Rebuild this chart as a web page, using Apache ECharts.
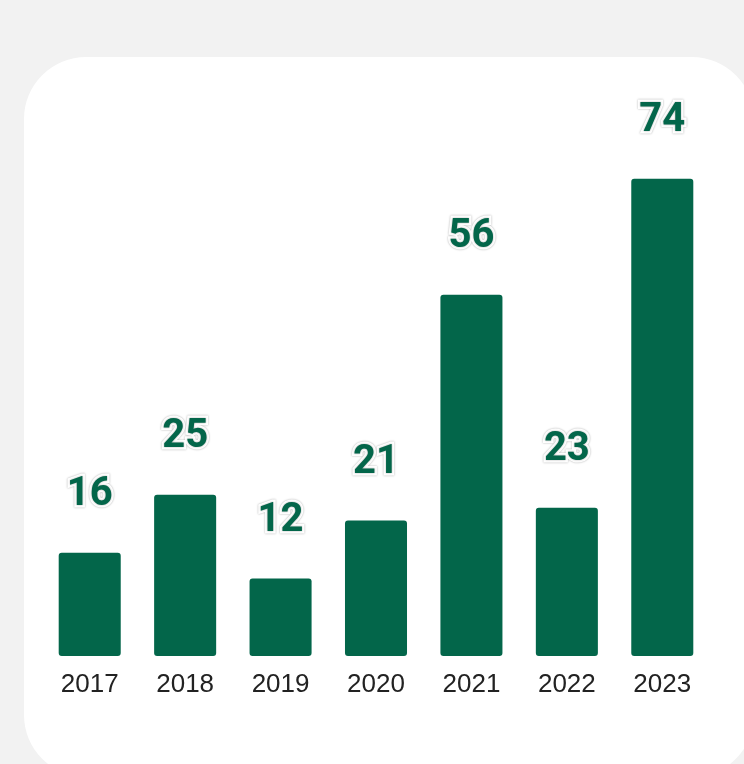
<!DOCTYPE html>
<html>
<head>
<meta charset="utf-8">
<script src="https://cdn.jsdelivr.net/npm/echarts@6/dist/echarts.min.js"></script>
<style>
  html, body { margin: 0; padding: 0; background: #f2f2f2; }
  #main { width: 744px; height: 764px; }
</style>
</head>
<body>
<div id="main"></div>
<script>
var chartDom = document.getElementById('main');
var chart = echarts.init(chartDom, null, { renderer: 'canvas' });

// Data
var years = ['2017', '2018', '2019', '2020', '2021', '2022', '2023'];
var counts = [16, 25, 12, 21, 56, 23, 74];

var option = {
    backgroundColor: '#f2f2f2',
    graphic: [{
        type: 'rect',
        z: -10,
        shape: { x: 24, y: 57, width: 730, height: 720, r: 62 },
        style: { fill: '#ffffff' }
    }],
    grid: { left: 42, right: 34, top: 140, bottom: 108 },
    xAxis: {
        type: 'category',
        data: years,
        axisLine: { show: false },
        axisTick: { show: false },
        axisLabel: {
            color: '#222',
            fontSize: 26,
            fontFamily: 'Liberation Sans',
            margin: 16
        }
    },
    yAxis: {
        type: 'value',
        min: 0,
        max: 80,
        show: false,
        splitLine: { show: false }
    },
    series: [{
        type: 'bar',
        data: counts,
        barWidth: '65%',
        itemStyle: { color: '#03664a', borderRadius: 3 },
        label: {
            show: true,
            position: 'top',
            distance: 38,
            color: '#03664a',
            fontSize: 40,
            fontWeight: 'bold',
            fontFamily: 'Roboto',
            textBorderColor: '#ffffff',
            textBorderWidth: 5,
            textShadowColor: 'rgba(0,0,0,0.35)',
            textShadowBlur: 2
        }
    }]
};

chart.setOption(option);
window.addEventListener('resize', function() {
    chart.resize();
});
</script>
</body>
</html>
